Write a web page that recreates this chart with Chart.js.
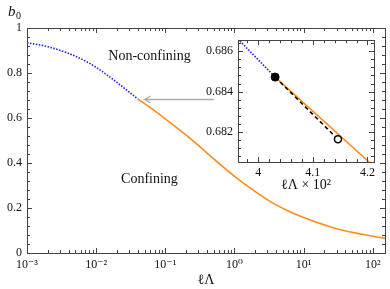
<!DOCTYPE html>
<html>
<head>
<meta charset="utf-8">
<script src="https://cdn.jsdelivr.net/npm/chart.js@4.4.1/dist/chart.umd.min.js"></script>
<style>
  html, body { margin: 0; padding: 0; background: #fff; }
  #wrap { position: relative; width: 390px; height: 289px; }
  #mainChart { position: absolute; left: 0; top: 0; }
  #insetChart { position: absolute; left: 195px; top: 28px; }
</style>
</head>
<body>
<div id="wrap">
  <canvas id="mainChart" width="390" height="289"></canvas>
  <canvas id="insetChart" width="190" height="170"></canvas>
</div>
<script>
// main plot: b0 against lΛ
const nonConfX = [0.001, 0.002, 0.004, 0.007, 0.01, 0.015, 0.02, 0.03, 0.0403];
const nonConfY = [0.935, 0.917, 0.887, 0.853, 0.825, 0.787, 0.758, 0.715, 0.684];
const confX = [0.0403, 0.06, 0.1, 0.2, 0.3, 0.5, 1, 2, 3.5, 6, 10, 30, 70, 150];
const confY = [0.684, 0.647, 0.596, 0.524, 0.478, 0.418, 0.341, 0.273, 0.224, 0.187, 0.158, 0.108, 0.083, 0.065];
const mainXTicks = [1e-3, 1e-2, 1e-1, 1, 10, 100];
const mainXLabels = ['10⁻³', '10⁻²', '10⁻¹', '10⁰', '10¹', '10²'];

// inset: zoom on the transition, x in lΛ x 10^2
const insetBlueX = [3.955, 4.031];
const insetBlueY = [0.68683, 0.68472];
const insetOrangeX = [4.031, 4.203];
const insetOrangeY = [0.68472, 0.68051];
const insetDashX = [4.031, 4.146];
const insetDashY = [0.68472, 0.68164];
const insetXLabels = [4, 4.1, 4.2];
const insetYLabels = [0.682, 0.684, 0.686];

const SERIF = "'Liberation Serif', 'DejaVu Serif', serif";
Chart.defaults.font.family = SERIF;
Chart.defaults.color = '#111';

const pts = (xs, ys) => xs.map((x, i) => ({ x: x, y: ys[i] }));
const near = (a, b) => Math.abs(a - b) < 1e-6;

// frame with inward ticks on all four sides
function frame(isTickX, isMajorX, isTickY, isMajorY) {
  return {
    id: 'frame',
    afterDraw(chart) {
      const { ctx, chartArea: a, scales: { x, y } } = chart;
      ctx.save();
      ctx.strokeStyle = '#444';
      ctx.lineWidth = 1;
      ctx.beginPath();
      x.ticks.forEach(t => {
        if (!isTickX(t.value)) return;
        const p = Math.round(x.getPixelForValue(t.value)) + 0.5;
        const l = isMajorX(t.value) ? 5 : 3;
        ctx.moveTo(p, a.bottom); ctx.lineTo(p, a.bottom - l);
        ctx.moveTo(p, a.top); ctx.lineTo(p, a.top + l);
      });
      y.ticks.forEach(t => {
        if (!isTickY(t.value)) return;
        const p = Math.round(y.getPixelForValue(t.value)) + 0.5;
        const l = isMajorY(t.value) ? 5 : 3;
        ctx.moveTo(a.left, p); ctx.lineTo(a.left + l, p);
        ctx.moveTo(a.right, p); ctx.lineTo(a.right - l, p);
      });
      ctx.stroke();
      ctx.strokeRect(Math.round(a.left) + 0.5, Math.round(a.top) + 0.5,
        Math.round(a.right - a.left), Math.round(a.bottom - a.top));
      ctx.restore();
    }
  };
}

const mantissa = v => v / Math.pow(10, Math.floor(Math.log10(v) + 1e-9));
const logTick = v => near(mantissa(v), Math.round(mantissa(v)));
const logMajor = v => logTick(v) && Math.round(mantissa(v)) === 1;
const yMajor = v => near(v / 0.2, Math.round(v / 0.2));

const notes = {
  id: 'notes',
  afterDraw(chart) {
    const { ctx, scales: { x, y } } = chart;
    ctx.save();
    ctx.fillStyle = '#111';
    ctx.textAlign = 'center';
    ctx.textBaseline = 'middle';
    ctx.font = '14px ' + SERIF;
    ctx.fillText('Non-confining', x.getPixelForValue(0.059), y.getPixelForValue(0.876));
    ctx.fillText('Confining', x.getPixelForValue(0.059), y.getPixelForValue(0.329));
    // y label b0
    ctx.textAlign = 'left';
    ctx.font = 'italic 15px ' + SERIF;
    ctx.fillText('b', 8, 12);
    ctx.font = '10px ' + SERIF;
    ctx.fillText('0', 16, 16);
    // arrow pointing at the transition
    const ay = Math.round(y.getPixelForValue(0.684)) + 0.5;
    const x0 = x.getPixelForValue(0.05), x1 = x.getPixelForValue(0.5);
    ctx.strokeStyle = '#aaa';
    ctx.lineWidth = 1.3;
    ctx.beginPath();
    ctx.moveTo(x1, ay); ctx.lineTo(x0, ay);
    ctx.moveTo(x0 + 6, ay - 3.5); ctx.lineTo(x0, ay); ctx.lineTo(x0 + 6, ay + 3.5);
    ctx.stroke();
    ctx.restore();
  }
};

new Chart(document.getElementById('mainChart'), {
  type: 'scatter',
  data: {
    datasets: [{
      data: pts(nonConfX, nonConfY),
      showLine: true,
      borderColor: '#1a1aff',
      borderDash: [1.5, 1.5],
      borderWidth: 1.6,
      pointRadius: 0,
      cubicInterpolationMode: 'monotone'
    }, {
      data: pts(confX, confY),
      showLine: true,
      borderColor: '#ff8c1a',
      borderWidth: 1.6,
      pointRadius: 0,
      cubicInterpolationMode: 'monotone'
    }]
  },
  options: {
    responsive: false,
    animation: false,
    layout: { padding: { top: 28, right: 3, left: 0, bottom: 0 } },
    plugins: { legend: { display: false }, tooltip: { enabled: false } },
    scales: {
      x: {
        type: 'logarithmic',
        min: 0.001,
        max: 150,
        grid: { display: false, drawTicks: false },
        border: { display: false },
        afterFit: s => { s.height = 36; },
        ticks: {
          autoSkip: false,
          maxRotation: 0,
          padding: 5,
          font: { size: 12 },
          callback: v => {
            const i = mainXTicks.findIndex(t => near(Math.log10(v), Math.log10(t)));
            return i >= 0 ? mainXLabels[i] : '';
          }
        },
        title: { display: true, text: 'ℓΛ', font: { size: 14 }, padding: { top: 0, bottom: 0 } }
      },
      y: {
        min: 0,
        max: 1,
        grid: { display: false, drawTicks: false },
        border: { display: false },
        afterFit: s => { s.width = 27; },
        ticks: {
          stepSize: 0.04,
          autoSkip: false,
          padding: 5,
          font: { size: 12 },
          callback: v => yMajor(v) ? String(+v.toFixed(1)) : ''
        }
      }
    }
  },
  plugins: [frame(logTick, logMajor, () => true, yMajor), notes]
});

const insetXTick = v => near(v / 0.02, Math.round(v / 0.02));
const insetXMajor = v => insetXLabels.some(t => near(t, v));
const insetYTick = v => near(v / 0.0004, Math.round(v / 0.0004));
const insetYMajor = v => insetYLabels.some(t => Math.abs(t - v) < 1e-8);

const whiteBox = {
  id: 'whiteBox',
  beforeDraw(chart) {
    const { ctx, chartArea: a } = chart;
    ctx.save();
    ctx.fillStyle = '#fff';
    ctx.fillRect(a.left, a.top, a.right - a.left, a.bottom - a.top);
    ctx.restore();
  }
};

new Chart(document.getElementById('insetChart'), {
  type: 'scatter',
  data: {
    datasets: [{
      data: pts([insetDashX[0]], [insetDashY[0]]),
      pointRadius: 4,
      pointBackgroundColor: '#000',
      pointBorderColor: '#000'
    }, {
      data: pts([insetDashX[1]], [insetDashY[1]]),
      pointRadius: 3.5,
      pointBorderWidth: 1.5,
      pointBackgroundColor: '#fff',
      pointBorderColor: '#000'
    }, {
      data: pts(insetDashX, insetDashY),
      showLine: true,
      borderColor: '#000',
      borderDash: [4, 3],
      borderWidth: 1.6,
      pointRadius: 0
    }, {
      data: pts(insetBlueX, insetBlueY),
      showLine: true,
      borderColor: '#1a1aff',
      borderDash: [1.5, 1.5],
      borderWidth: 1.6,
      pointRadius: 0
    }, {
      data: pts(insetOrangeX, insetOrangeY),
      showLine: true,
      borderColor: '#ff8c1a',
      borderWidth: 1.6,
      pointRadius: 0
    }]
  },
  options: {
    responsive: false,
    animation: false,
    layout: { padding: { top: 5, right: 11, left: 0, bottom: 0 } },
    plugins: { legend: { display: false }, tooltip: { enabled: false } },
    scales: {
      x: {
        min: 3.963,
        max: 4.212,
        grid: { display: false, drawTicks: false },
        border: { display: false },
        afterFit: s => { s.height = 36; },
        ticks: {
          stepSize: 0.02,
          includeBounds: false,
          autoSkip: false,
          maxRotation: 0,
          padding: 4,
          font: { size: 12 },
          callback: v => insetXMajor(v) ? String(+v.toFixed(1)) : ''
        },
        title: { display: true, text: 'ℓΛ × 10²', font: { size: 14 }, padding: { top: 0, bottom: 4 } }
      },
      y: {
        min: 0.68051,
        max: 0.68655,
        grid: { display: false, drawTicks: false },
        border: { display: false },
        afterFit: s => { s.width = 43; },
        ticks: {
          stepSize: 0.0004,
          includeBounds: false,
          autoSkip: false,
          padding: 5,
          font: { size: 12 },
          callback: v => insetYMajor(v) ? v.toFixed(3) : ''
        }
      }
    }
  },
  plugins: [whiteBox, frame(insetXTick, insetXMajor, insetYTick, insetYMajor)]
});
</script>
</body>
</html>
